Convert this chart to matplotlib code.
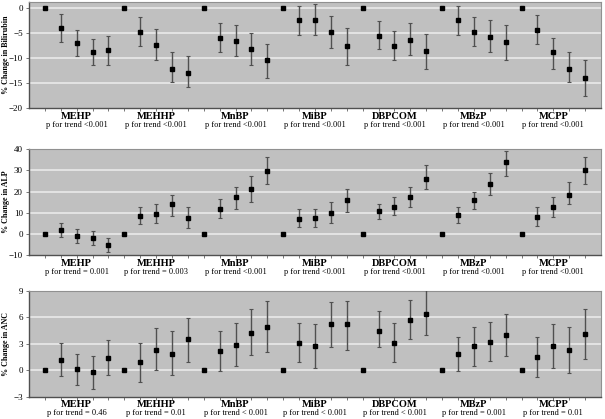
import matplotlib
matplotlib.use('Agg')
import matplotlib.pyplot as plt
import numpy as np

plt.rcParams['font.family'] = ['Liberation Serif', 'DejaVu Serif']

groups = ['MEHP', 'MEHHP', 'MnBP', 'MiBP', 'DBPCOM', 'MBzP', 'MCPP']

# quartiles 2-4 per group (quartile 1 is reference = 0): estimate, lower, upper
bili_est = [[-4.1, -7.1, -8.9, -8.5], [-4.9, -7.4, -12.3, -13.1], [-6.1, -6.7, -8.3, -10.5],
            [-2.5, -2.5, -4.9, -7.6], [-5.6, -7.6, -6.4, -8.7], [-2.5, -4.8, -5.8, -6.9],
            [-4.4, -8.9, -12.3, -14.0]]
bili_lo = [[-6.9, -9.6, -11.4, -11.4], [-7.7, -10.5, -14.9, -15.7], [-8.9, -9.6, -11.4, -14.1],
           [-5.5, -5.5, -8.1, -11.4], [-8.3, -10.5, -9.5, -12.3], [-5.4, -7.7, -8.9, -10.5],
           [-7.2, -12.3, -14.8, -17.5]]
bili_hi = [[-1.3, -4.5, -6.3, -5.7], [-1.9, -4.3, -8.9, -9.6], [-3.1, -3.5, -5.0, -7.3],
           [0.4, 0.8, -1.6, -4.1], [-2.7, -4.7, -3.1, -5.2], [0.4, -1.9, -2.5, -3.5],
           [-1.4, -6.1, -8.9, -10.5]]

alp_est = [[1.9, -0.8, -2.1, -5.4], [8.7, 9.6, 14.0, 7.3], [11.8, 17.5, 21.0, 29.8],
           [7.1, 7.4, 9.9, 16.2], [10.6, 12.9, 17.5, 25.9], [9.0, 16.2, 23.5, 33.8],
           [8.0, 12.9, 18.6, 30.0]]
alp_lo = [[-1.6, -4.4, -5.4, -8.7], [4.6, 5.0, 8.4, 2.7], [7.3, 11.7, 15.0, 23.5],
          [3.3, 3.2, 5.2, 10.3], [6.9, 9.0, 12.8, 21.1], [5.2, 11.7, 18.6, 27.3],
          [3.8, 8.0, 14.0, 23.5]]
alp_hi = [[5.4, 2.2, 1.3, -2.1], [12.8, 14.0, 18.6, 12.8], [16.4, 22.1, 27.3, 36.3],
          [11.7, 11.7, 15.0, 21.1], [14.0, 17.5, 22.1, 32.5], [12.8, 19.7, 28.7, 39.3],
          [12.8, 17.5, 24.6, 36.3]]

anc_est = [[1.2, 0.15, -0.2, 1.4], [0.9, 2.35, 1.9, 3.5], [2.2, 2.9, 4.2, 4.9],
           [3.1, 2.75, 5.2, 5.2], [4.5, 3.1, 5.7, 6.4], [1.85, 2.7, 3.2, 4.0],
           [1.55, 2.7, 2.3, 4.1]]
anc_lo = [[-0.6, -1.7, -2.1, -0.5], [-1.3, 0.0, -0.5, 0.9], [-0.05, 0.5, 1.7, 2.1],
          [0.9, 0.3, 2.6, 2.35], [2.6, 0.95, 3.5, 4.0], [-0.1, 0.5, 1.0, 1.6],
          [-0.75, 0.3, -0.3, 1.3]]
anc_hi = [[3.1, 1.9, 1.6, 3.4], [3.1, 4.8, 4.4, 5.95], [4.5, 5.3, 6.9, 7.8],
          [5.4, 5.2, 7.7, 7.8], [6.7, 5.3, 8.0, 9.1], [3.8, 4.85, 5.45, 6.4],
          [3.8, 5.2, 4.85, 6.9]]

bili_p = ['p for trend <0.001'] * 7
alp_p = ['p for trend = 0.001', 'p for trend = 0.003'] + ['p for trend <0.001'] * 5
anc_p = ['p for trend = 0.46', 'p for trend = 0.01', 'p for trend < 0.001', 'p for trend < 0.001',
         'p for trend < 0.001', 'p for trend = 0.001', 'p for trend = 0.01']

panels = [
    ('% Change in Bilirubin', bili_est, bili_lo, bili_hi, bili_p, (-20, 1.2), [-20, -15, -10, -5, 0]),
    ('% Change in ALP', alp_est, alp_lo, alp_hi, alp_p, (-10, 40), [-10, 0, 10, 20, 30, 40]),
    ('% Change in ANC', anc_est, anc_lo, anc_hi, anc_p, (-3, 9), [-3, 0, 3, 6, 9]),
]

fig = plt.figure(figsize=(6.05, 4.19), dpi=100)
boxes = [(0.742, 0.996), (0.391, 0.644), (0.053, 0.306)]
left, right = 29 / 605, 601 / 605

for (ylabel, est, lo, hi, pvals, ylim, yticks), (bot, top) in zip(panels, boxes):
    ax = fig.add_axes([left, bot, right - left, top - bot])
    ax.set_facecolor('#c0c0c0')
    ax.set_xlim(0, 36)
    ax.set_ylim(*ylim)
    ax.set_yticks(yticks)
    for t in yticks[1:-1] if ylim[1] == yticks[-1] else yticks[1:]:
        ax.axhline(t, color='#e6e6e6', lw=1.3, zorder=1)
    h = (top - bot) * 419
    for i, g in enumerate(groups):
        x0 = i * 5 + 1
        ax.plot([x0], [0], 's', color='black', ms=2.2, zorder=3)
        xs = np.arange(x0 + 1, x0 + 5)
        e = np.array(est[i])
        yerr = [e - np.array(lo[i]), np.array(hi[i]) - e]
        ax.errorbar(xs, e, yerr=yerr, fmt='s', color='black', ms=2.2, ecolor='#505050',
                    elinewidth=1.0, capsize=1.6, capthick=0.8, zorder=3)
        ax.text(x0 + 2, -8 / h, g, transform=ax.get_xaxis_transform(), ha='center',
                va='center', fontsize=7.5, fontweight='bold')
        ax.text(x0 + 2, -16.5 / h, pvals[i], transform=ax.get_xaxis_transform(), ha='center',
                va='center', fontsize=6)
    ax.set_xticks(np.arange(1, 36))
    ax.set_xticklabels([])
    ax.tick_params(axis='x', length=2.5, color='#606060', width=0.6)
    ax.tick_params(axis='y', length=2.5, color='#606060', width=0.6, labelsize=6.5, pad=2)
    fig.text(6 / 605, (bot + top) / 2, ylabel, rotation=90, ha='center', va='center',
             fontsize=5.8, fontweight='bold')
    for s in ['left', 'bottom']:
        ax.spines[s].set_color('#505050')
        ax.spines[s].set_linewidth(1.0)
    for s in ['top', 'right']:
        ax.spines[s].set_color('#909090')
        ax.spines[s].set_linewidth(0.8)

fig.savefig('out.png', dpi=100)
